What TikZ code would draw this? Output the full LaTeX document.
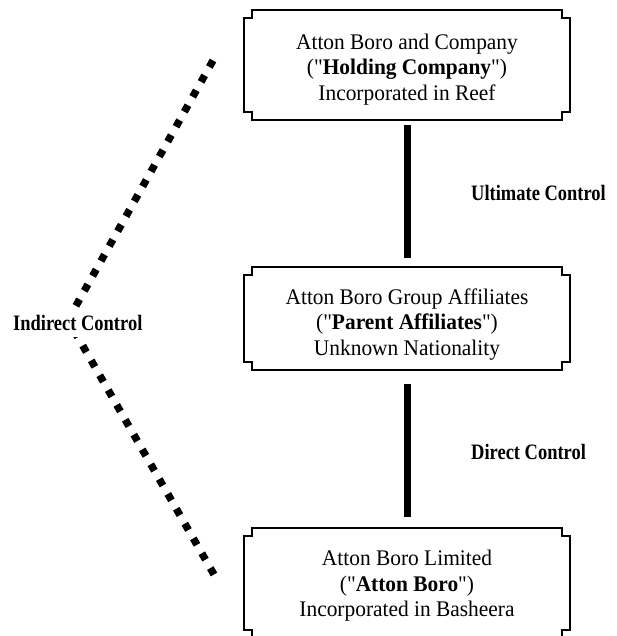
\documentclass[tikz,border=0pt]{standalone}
\usepackage{fontspec}
\setmainfont{Liberation Serif}[Ligatures=TeXOff, FakeStretch=0.96]
\newfontfamily\lblfont[FakeStretch=0.84]{Liberation Serif}
\usetikzlibrary{calc}
\tikzset{
  boxnode/.style={minimum width=326pt, inner sep=0pt},
  txt/.style={align=center, inner sep=0pt, font=\fontsize{22.3}{25.5}\selectfont},
  frame/.style={line width=1.8pt, line join=miter},
  ctrl/.style={line width=7pt},
  lbl/.style={anchor=west, inner sep=0pt, font=\lblfont\bfseries\fontsize{22}{26}\selectfont},
  dotline/.style={line width=7.4pt, dash pattern=on 7.4pt off 9.7pt},
}
\newcommand\notchframe[1]{%
  \draw[frame] ($(#1.north west)+(8,0)$) -- ($(#1.north east)+(-8,0)$) -- ++(0,8) -- ++(8,0)
    -- ($(#1.south east)+(0,-8)$) -- ++(-8,0) -- ++(0,8)
    -- ($(#1.south west)+(8,0)$) -- ++(0,-8) -- ++(-8,0)
    -- ($(#1.north west)+(0,8)$) -- ++(8,0) -- cycle;}
\begin{document}
\begin{tikzpicture}[x=1pt,y=-1pt]
\useasboundingbox (0,0) rectangle (616,636);
\begin{scope}
\clip (0,0) rectangle (616,636);
\node[boxnode, minimum height=110pt] (b1) at (407,65) {};
\node[boxnode, minimum height=103pt] (b2) at (407,318.5) {};
\node[boxnode, minimum height=110pt] (b3) at (407,583) {};
\notchframe{b1}
\notchframe{b2}
\notchframe{b3}
\end{scope}
\node[txt] (t1) at ($(b1.center)+(0,4.5)$) {Atton Boro and Company\\("\textbf{Holding Company}")\\Incorporated in Reef};
\node[txt] (t2) at ($(b2.center)+(0,6)$) {Atton Boro Group Affiliates\\("\textbf{Parent Affiliates}")\\Unknown Nationality};
\node[txt] (t3) at ($(b3.center)+(0,3)$) {Atton Boro Limited\\("\textbf{Atton Boro}")\\Incorporated in Basheera};
\draw[ctrl, shorten <=5pt, shorten >=9pt] (b1.south) -- (b2.north);
\draw[ctrl, shorten <=14pt, shorten >=11pt] (b2.south) -- (b3.north);
\node[lbl] (uc) at (471,193) {Ultimate Control};
\node[lbl] (dc) at (471,452) {Direct Control};
\coordinate (dtop) at (213,60.5);
\coordinate (apex) at (68,320);
\coordinate (dbot) at (214,574.5);
\draw[dotline] (dtop) -- (apex);
\draw[dotline] (dbot) -- (apex);
\node[lbl, fill=white, inner xsep=1pt, inner ysep=6pt] (ic) at (12,323) {Indirect Control};
\end{tikzpicture}
\end{document}
